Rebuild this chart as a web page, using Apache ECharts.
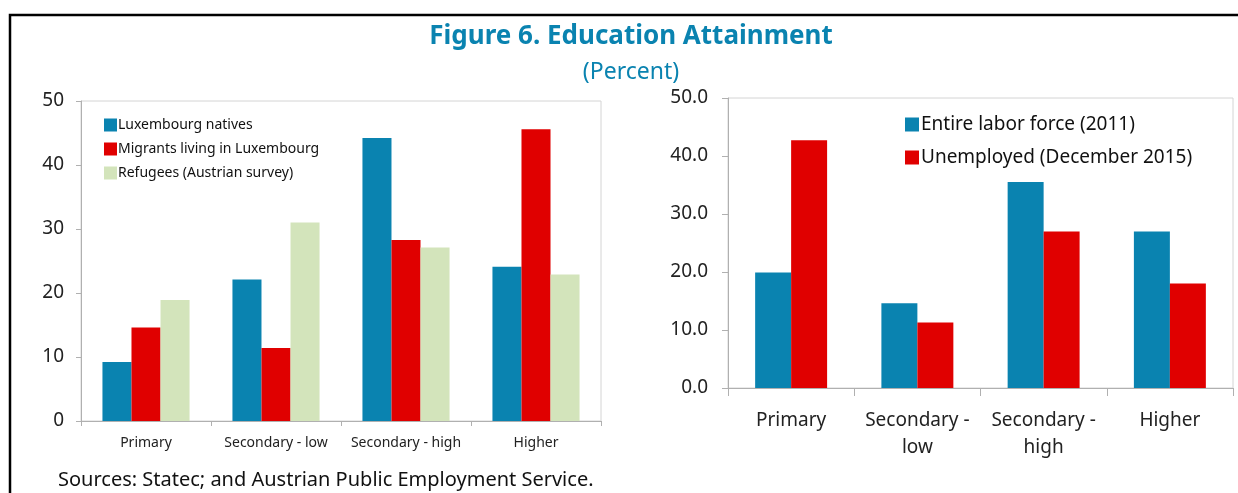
<!DOCTYPE html>
<html><head><meta charset="utf-8">
<script src="https://cdn.jsdelivr.net/npm/echarts@6/dist/echarts.min.js"></script>
<style>html,body{margin:0;padding:0;background:#fff}#c{width:1238px;height:493px}</style>
</head><body><div id="c"></div>
<script>
const leftCategories = ['Primary', 'Secondary - low', 'Secondary - high', 'Higher'];
const luxNatives = [9.2, 22.1, 44.2, 24.1];
const migrantsLux = [14.6, 11.4, 28.3, 45.6];
const refugeesAustria = [18.9, 31.0, 27.1, 22.9];
const leftTicks = [0, 10, 20, 30, 40, 50];

const rightCategories = ['Primary', 'Secondary -\nlow', 'Secondary -\nhigh', 'Higher'];
const laborForce2011 = [19.9, 14.6, 35.5, 27.0];
const unemployed2015 = [42.7, 11.3, 27.0, 18.0];
const rightTicks = [0, 10, 20, 30, 40, 50];

const BLUE = '#0a83b0', RED = '#e00000', GREEN = '#d3e4bb';
const FONT = 'Noto Sans';
const chart = echarts.init(document.getElementById('c'), null, {renderer: 'canvas'});
const axisGray = '#b0b0b0';

chart.setOption({
  animation: false,
  textStyle: {fontFamily: FONT},
  graphic: [
    {type: 'rect', shape: {x: 10, y: 15, width: 1400, height: 700}, style: {fill: 'none', stroke: '#000', lineWidth: 2.5}, silent: true},
    {type: 'text', x: 631, y: 37, style: {text: 'Figure 6. Education Attainment', fill: '#0a83b0', font: 'bold 26px "Noto Sans"', textAlign: 'center', textVerticalAlign: 'middle'}},
    {type: 'text', x: 631, y: 72, style: {text: '(Percent)', fill: '#0a83b0', font: '23px "Noto Sans"', textAlign: 'center', textVerticalAlign: 'middle'}},
    {type: 'text', x: 58, y: 480, style: {text: 'Sources: Statec; and Austrian Public Employment Service.', fill: '#111', font: '20px "Noto Sans"', textAlign: 'left', textVerticalAlign: 'middle'}}
  ],
  legend: [
    {data: ['Luxembourg natives', 'Migrants living in Luxembourg', 'Refugees (Austrian survey)'],
     orient: 'vertical', left: 99, top: 113, itemWidth: 13, itemHeight: 13, itemGap: 10,
     icon: 'rect', textStyle: {fontSize: 14, color: '#111', fontFamily: FONT, padding: [0, 0, 0, -4]}},
    {data: ['Entire labor force (2011)', 'Unemployed (December 2015)'],
     orient: 'vertical', left: 900, top: 110, itemWidth: 14, itemHeight: 14, itemGap: 14,
     icon: 'rect', textStyle: {fontSize: 19, color: '#111', fontFamily: FONT, padding: [0, 0, 0, -3]}}
  ],
  grid: [
    {left: 81, top: 101, width: 520, height: 320, show: true, borderColor: '#d4d4d4', borderWidth: 1},
    {left: 728, top: 98, width: 505, height: 290, show: true, borderColor: '#d4d4d4', borderWidth: 1}
  ],
  xAxis: [
    {type: 'category', gridIndex: 0, data: leftCategories,
     axisLine: {lineStyle: {color: axisGray}}, axisTick: {show: true, length: 5, lineStyle: {color: axisGray}},
     axisLabel: {fontSize: 14, color: '#222', margin: 15, interval: 0}},
    {type: 'category', gridIndex: 1, data: rightCategories,
     axisLine: {lineStyle: {color: axisGray}}, axisTick: {show: true, length: 8, lineStyle: {color: axisGray}},
     axisLabel: {fontSize: 19, color: '#222', margin: 19, lineHeight: 27, interval: 0}}
  ],
  yAxis: [
    {type: 'value', gridIndex: 0, min: leftTicks[0], max: leftTicks[leftTicks.length - 1], interval: 10,
     axisLine: {show: true, lineStyle: {color: axisGray}}, axisTick: {show: true, length: 5, lineStyle: {color: axisGray}},
     splitLine: {show: false}, axisLabel: {fontSize: 19, color: '#222', margin: 17}},
    {type: 'value', gridIndex: 1, min: rightTicks[0], max: rightTicks[rightTicks.length - 1], interval: 10,
     axisLine: {show: true, lineStyle: {color: axisGray}}, axisTick: {show: true, length: 6, lineStyle: {color: axisGray}},
     splitLine: {show: false}, axisLabel: {fontSize: 19, color: '#222', margin: 20, formatter: v => v.toFixed(1)}}
  ],
  series: [
    {name: 'Luxembourg natives', type: 'bar', xAxisIndex: 0, yAxisIndex: 0, data: luxNatives, itemStyle: {color: BLUE}, barGap: '0%', barCategoryGap: '33%'},
    {name: 'Migrants living in Luxembourg', type: 'bar', xAxisIndex: 0, yAxisIndex: 0, data: migrantsLux, itemStyle: {color: RED}},
    {name: 'Refugees (Austrian survey)', type: 'bar', xAxisIndex: 0, yAxisIndex: 0, data: refugeesAustria, itemStyle: {color: GREEN}},
    {name: 'Entire labor force (2011)', type: 'bar', xAxisIndex: 1, yAxisIndex: 1, data: laborForce2011, itemStyle: {color: BLUE}, barGap: '0%', barCategoryGap: '43%'},
    {name: 'Unemployed (December 2015)', type: 'bar', xAxisIndex: 1, yAxisIndex: 1, data: unemployed2015, itemStyle: {color: RED}}
  ]
});
</script></body></html>
